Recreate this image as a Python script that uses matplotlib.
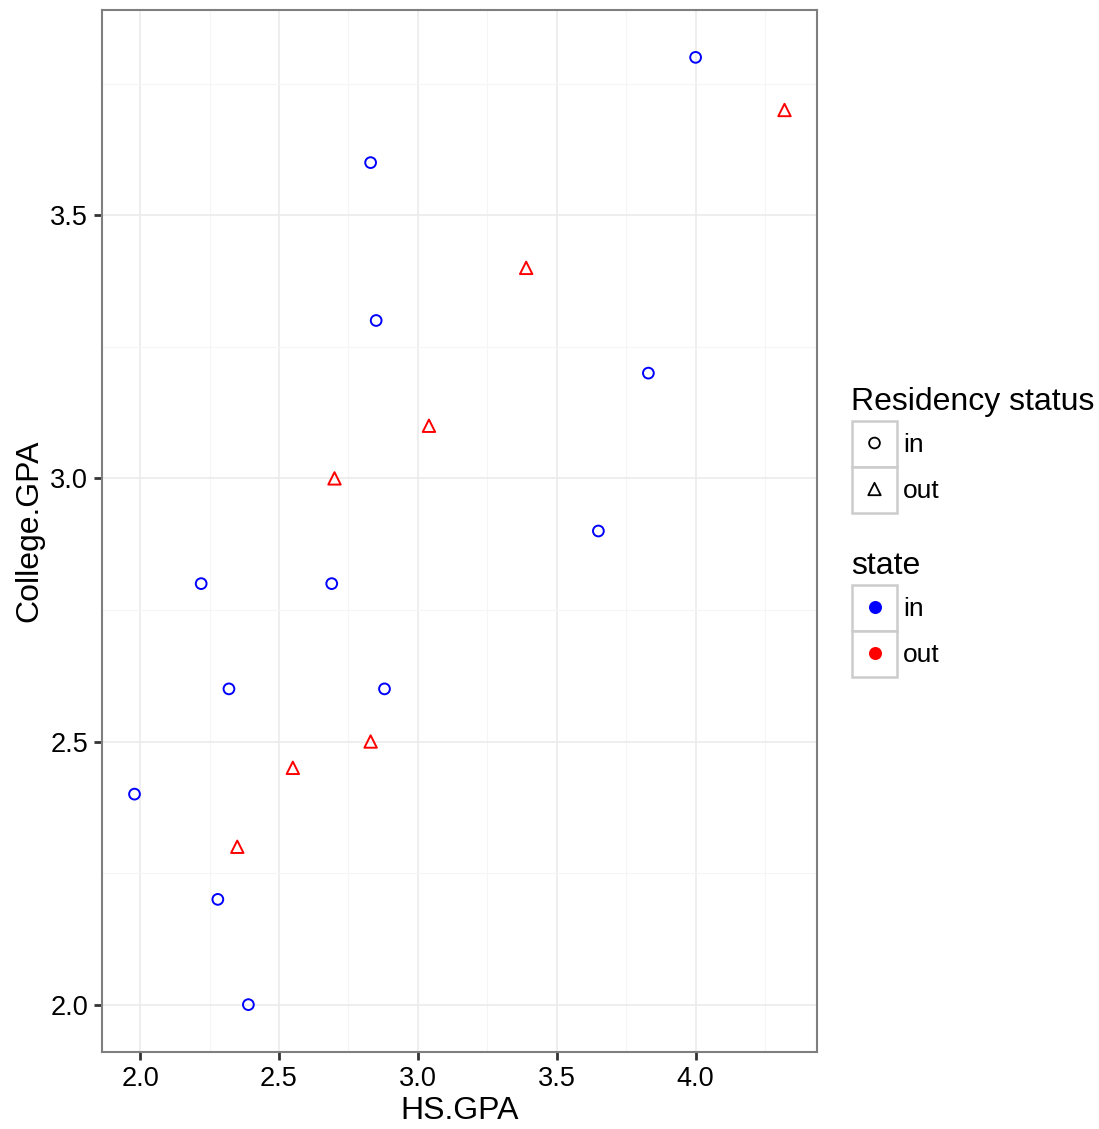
import matplotlib
matplotlib.use("Agg")
import matplotlib.pyplot as plt
from matplotlib.patches import Rectangle
from matplotlib.ticker import MultipleLocator

plt.rcParams['font.family'] = ['Liberation Sans', 'DejaVu Sans']

# donnees
hs_in = [4.00, 2.83, 2.85, 3.83, 3.65, 2.22, 2.69, 2.32, 2.88, 1.98, 2.28, 2.39]
col_in = [3.80, 3.60, 3.30, 3.20, 2.90, 2.80, 2.80, 2.60, 2.60, 2.40, 2.20, 2.00]
hs_out = [4.32, 3.39, 3.04, 2.70, 2.83, 2.55, 2.35]
col_out = [3.70, 3.40, 3.10, 3.00, 2.50, 2.45, 2.30]
statuts = ["in", "out"]
couleurs = {"in": "#0000FF", "out": "#FF0000"}
formes = {"in": "o", "out": "^"}

fig = plt.figure(figsize=(10.99, 11.29), dpi=100)
ax = fig.add_axes([102/1099, 1-1052/1129, 715/1099, 1042/1129])

ax.scatter(hs_in, col_in, s=60, marker="o", facecolors="none",
           edgecolors=couleurs["in"], linewidths=1.4, zorder=3)
ax.scatter(hs_out, col_out, s=80, marker="^", facecolors="none",
           edgecolors=couleurs["out"], linewidths=1.4, zorder=3)

# limites avec expansion 5% comme ggplot
tous_x = hs_in + hs_out
tous_y = col_in + col_out
dx = (max(tous_x) - min(tous_x)) * 0.05
dy = (max(tous_y) - min(tous_y)) * 0.05
ax.set_xlim(min(tous_x) - dx, max(tous_x) + dx)
ax.set_ylim(min(tous_y) - dy, max(tous_y) + dy)

ax.xaxis.set_major_locator(MultipleLocator(0.5))
ax.yaxis.set_major_locator(MultipleLocator(0.5))
ax.xaxis.set_minor_locator(MultipleLocator(0.25))
ax.yaxis.set_minor_locator(MultipleLocator(0.25))
ax.xaxis.set_major_formatter(lambda v, p: f"{v:.1f}")
ax.yaxis.set_major_formatter(lambda v, p: f"{v:.1f}")
ax.grid(True, which="major", color="#EBEBEB", linewidth=1.2)
ax.grid(True, which="minor", color="#F5F5F5", linewidth=0.8)
ax.set_axisbelow(True)
ax.tick_params(which="major", length=6, width=2, color="#333333",
               labelsize=19.5, labelcolor="black", pad=4)
ax.tick_params(which="minor", length=0)
for s in ax.spines.values():
    s.set_color("#7F7F7F")
    s.set_linewidth(1.5)

ax.set_xlabel("HS.GPA", fontsize=23, labelpad=3)
ax.set_ylabel("College.GPA", fontsize=23, labelpad=4)

# legende dessinee a la main (style ggplot)
lg = fig.add_axes([0, 0, 1, 1])
lg.set_xlim(0, 1099)
lg.set_ylim(1129, 0)
lg.axis("off")

def bloc(titre, y0, couleur_fn, forme_fn, taille_fn):
    lg.text(851, y0, titre, fontsize=23, va="baseline", ha="left")
    for i, st in enumerate(statuts):
        yb = y0 + 11 + i * 46
        lg.add_patch(Rectangle((852, yb), 45, 46, facecolor="white",
                               edgecolor="#CCCCCC", linewidth=1.8))
        fc, ec = couleur_fn(st)
        lg.scatter([874.5], [yb + 22], marker=forme_fn(st), s=taille_fn(st),
                   facecolors=fc, edgecolors=ec, linewidths=1.3, zorder=3)
        lg.text(903, yb + 24, st, fontsize=19, va="center", ha="left")

bloc("Residency status", 410,
     lambda st: ("none", "black"), lambda st: formes[st],
     lambda st: 60 if st == "in" else 80)
bloc("state", 574,
     lambda st: (couleurs[st], couleurs[st]), lambda st: "o",
     lambda st: 65)

fig.savefig("out.png", dpi=100)
